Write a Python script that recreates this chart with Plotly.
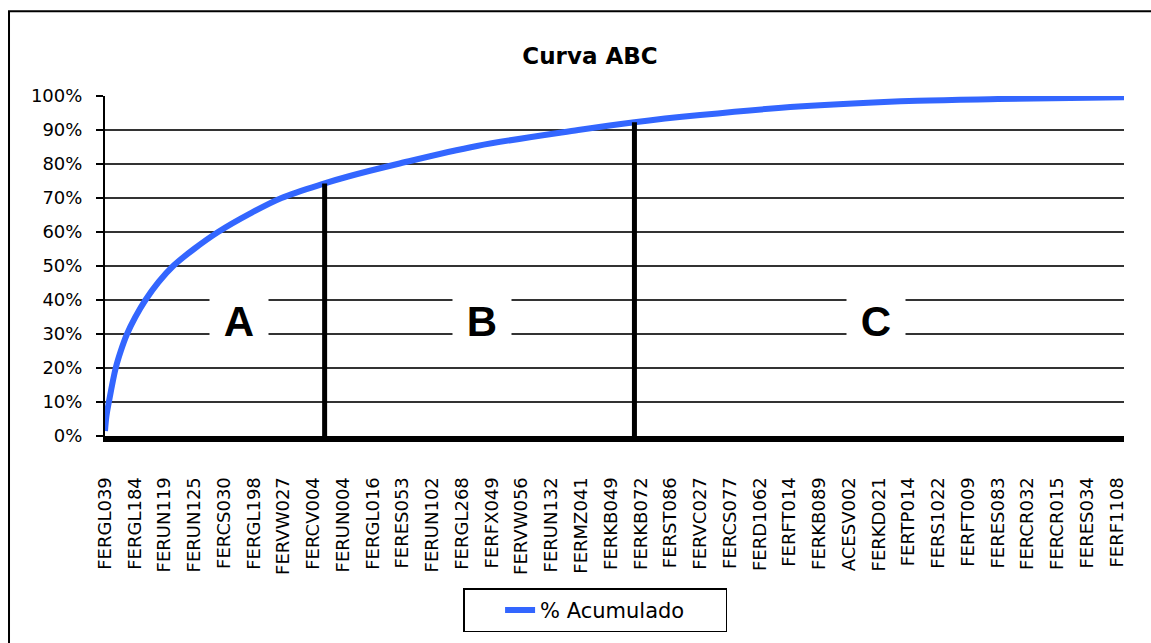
import plotly.graph_objects as go

# ---- data ----
categories = ["FERGL039", "FERGL184", "FERUN119", "FERUN125", "FERCS030", "FERGL198",
              "FERVW027", "FERCV004", "FERUN004", "FERGL016", "FERES053", "FERUN102",
              "FERGL268", "FERFX049", "FERVW056", "FERUN132", "FERMZ041", "FERKB049",
              "FERKB072", "FERST086", "FERVC027", "FERCS077", "FERD1062", "FERFT014",
              "FERKB089", "ACESV002", "FERKD021", "FERTP014", "FERS1022", "FERFT009",
              "FERES083", "FERCR032", "FERCR015", "FERES034", "FERF1108"]
category_index = list(range(len(categories)))

# cumulative % curve (position measured in labelled-category units)
curve_pos = [0, 0.05, 0.13, 0.36, 0.53, 0.74, 1.02, 1.36, 1.8, 2.29, 2.99, 3.8, 4.87,
             5.93, 7.38, 8.2, 9.83, 12.5, 15.9, 17.79, 20.0, 23.3, 27.3, 30.0, 34.24]
curve_pct = [1.5, 6, 10, 20, 25, 30, 35, 40, 45.3, 50, 55, 60, 65.4,
             70, 74.3, 76.4, 80.0, 85.3, 90, 92.3, 94.4, 96.9, 98.6, 99.1, 99.6]

# ABC class limits
class_pos = [7.38, 17.79]
class_pct = [74.3, 92.3]

class_names = ["A", "B", "C"]
class_label_pos = [4.5, 12.68, 25.9]
class_label_pct = [33.8, 33.8, 33.8]

y_ticks = [0, 10, 20, 30, 40, 50, 60, 70, 80, 90, 100]
x_max = 34.24

fig = go.Figure()
fig.add_trace(go.Scatter(
    x=curve_pos, y=curve_pct, mode="lines", name="% Acumulado",
    line=dict(color="#3366FF", width=6, shape="spline", smoothing=1.0),
))

for p, v in zip(class_pos, class_pct):
    fig.add_shape(type="line", xref="x", yref="y", x0=p, x1=p, y0=0, y1=v,
                  line=dict(color="black", width=5), layer="above")

for name, p, v in zip(class_names, class_label_pos, class_label_pct):
    fig.add_annotation(x=p, y=v, xref="x", yref="y", text="<b>%s</b>" % name,
                       showarrow=False, bgcolor="white", width=56, height=50,
                       font=dict(family="Liberation Sans", size=42, color="black"))

# chart frame (right and bottom edges lie outside the picture)
fig.add_shape(type="rect", xref="paper", yref="paper", x0=-0.0942, x1=1.2,
              y0=-0.8, y1=1.2495, line=dict(color="black", width=2), layer="above")

fig.update_layout(
    width=1151, height=643,
    margin=dict(l=105, r=27, t=96, b=206),
    paper_bgcolor="white", plot_bgcolor="white",
    title=dict(text="<b>Curva ABC</b>", x=0.5126, xanchor="center",
               y=1 - 56 / 643, yanchor="middle", yref="container",
               font=dict(family="DejaVu Sans", size=23, color="black")),
    showlegend=True,
    legend=dict(orientation="h", x=0.481, xanchor="center", y=-0.444, yanchor="top",
                bordercolor="black", borderwidth=1.5, bgcolor="white",
                title=dict(text="\u00a0\u00a0\u00a0\u00a0", side="left",
                           font=dict(family="DejaVu Sans", size=20)),
                font=dict(family="DejaVu Sans", size=21, color="black"),
                entrywidth=180, entrywidthmode="pixels"),
    xaxis=dict(range=[0, x_max], tickmode="array", tickvals=category_index,
               ticktext=categories, tickangle=-90, showgrid=False, zeroline=False,
               showline=True, linecolor="black", linewidth=6, ticks="",
               ticklabelstandoff=28,
               tickfont=dict(family="DejaVu Sans", size=18, color="black")),
    yaxis=dict(range=[0, 100], tickmode="array", tickvals=y_ticks,
               ticktext=["%d%%" % v for v in y_ticks], showgrid=True,
               gridcolor="#333333", gridwidth=2, zeroline=False,
               showline=True, linecolor="black", linewidth=2,
               ticks="outside", ticklen=7, tickcolor="black", tickwidth=2,
               ticklabelstandoff=10,
               tickfont=dict(family="DejaVu Sans", size=18, color="black")),
)

fig.write_html("out.html", config={"displayModeBar": False},
               post_script="document.body.style.margin='0';")
